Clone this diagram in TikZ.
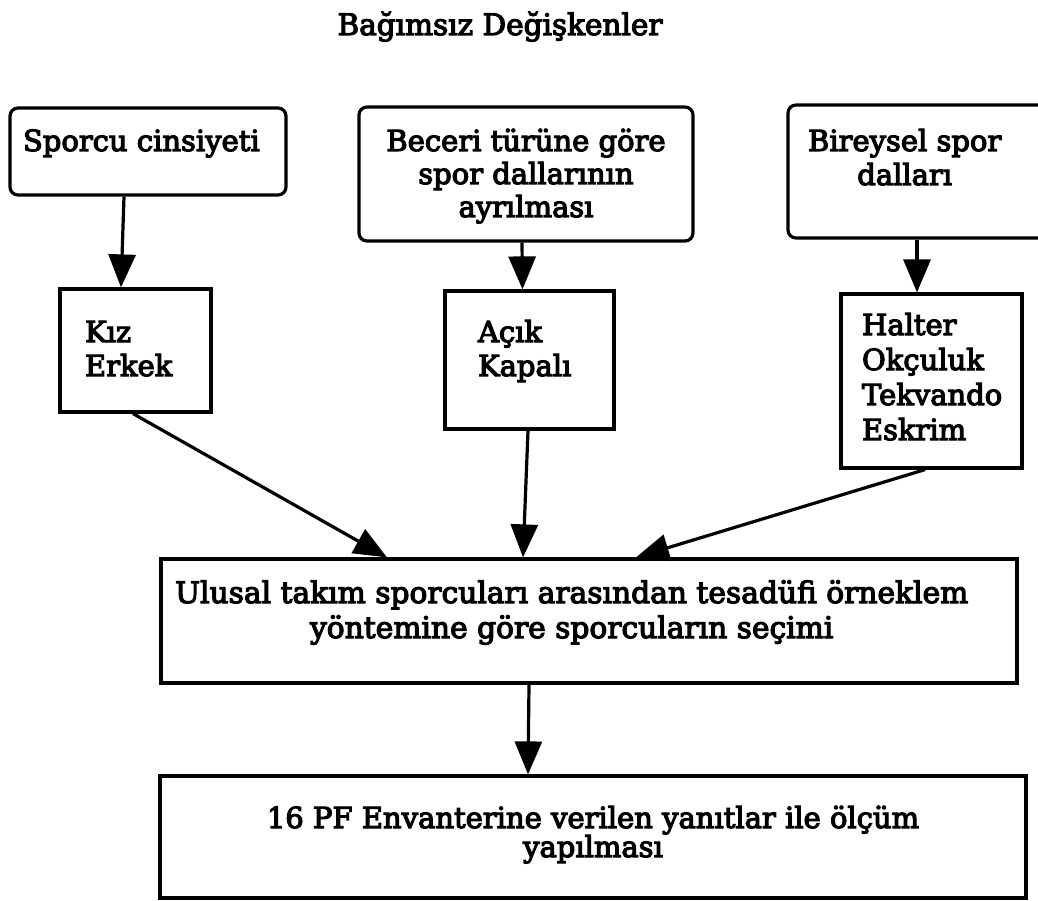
\documentclass[tikz,border=0pt]{standalone}
\usepackage{fontspec}
\setmainfont{DejaVu Serif}[FakeBold=4]
\usetikzlibrary{arrows.meta}

\begin{document}
\begin{tikzpicture}[x=1pt,y=-1pt,
    every node/.style={font=\fontsize{29}{34}\selectfont},
    box/.style={draw, line width=3.2pt, inner sep=0pt},
    rbox/.style={box, rounded corners=8pt},
    arr/.style={line width=3.2pt, -{Triangle[length=33pt,width=27pt]}}]
\useasboundingbox (0,0) rectangle (1038,901);
\node[anchor=base, font=\fontsize{29.5}{34}\selectfont] (baslik) at (500,35) {Bağımsız Değişkenler};
\node[rbox] (cins) at (148,151.5) {\parbox[c][87pt][t]{276pt}{\raggedright\rule{0pt}{43pt}\hspace*{13pt}Sporcu cinsiyeti}};
\node[rbox] (beceri) at (526,174) {\parbox[c][134pt][t]{334pt}{\centering\fontsize{29}{33}\selectfont\rule{0pt}{44pt}Beceri türüne göre\\spor dallarının\\ayrılması}};
\node[rbox] (birey) at (924,171.5) {\parbox[c][133pt][t]{272pt}{\raggedright\rule{0pt}{46pt}\hspace*{20pt}\begin{tabular}[t]{@{}c@{}}Bireysel spor\\dalları\end{tabular}}};
\node[box] (kiz) at (135.5,350.5) {\parbox[c][123pt][t]{151pt}{\raggedright\rule{0pt}{53pt}\hspace*{25pt}Kız\\\hspace*{25pt}Erkek}};
\node[box] (acik) at (529.5,360) {\parbox[c][138pt][t]{169pt}{\raggedright\rule{0pt}{51pt}\hspace*{33pt}Açık\\\hspace*{33pt}Kapalı}};
\node[box] (halter) at (931.5,381) {\parbox[c][174pt][t]{181pt}{\raggedright\fontsize{29}{35}\selectfont\rule{0pt}{41pt}\hspace*{21pt}Halter\\\hspace*{21pt}Okçuluk\\\hspace*{21pt}Tekvando\\\hspace*{21pt}Eskrim}};
\node[box] (secim) at (589,621) {\parbox[c][124pt][t]{856pt}{\raggedright\fontsize{29.7}{35}\selectfont\rule{0pt}{44pt}\hspace*{14pt}\begin{tabular}[t]{@{}c@{}}Ulusal takım sporcuları arasından tesadüfi örneklem\\yöntemine göre sporcuların seçimi\end{tabular}}};
\node[box] (olcum) at (593,837) {\parbox[c][122pt][t]{866pt}{\centering\fontsize{29}{29}\selectfont\rule{0pt}{52pt}16 PF Envanterine verilen yanıtlar ile ölçüm\\yapılması}};
% oklar
\draw[arr] ([xshift=-24pt]cins.south) -- ([xshift=-14.5pt]kiz.north);
\draw[arr] ([xshift=-4pt]beceri.south) -- ([xshift=-7pt]acik.north);
\draw[arr] ([xshift=-7pt]birey.south) -- ([xshift=-14.5pt]halter.north);
\draw[arr] ([xshift=-2.5pt]kiz.south) -- ([xshift=-202pt]secim.north);
\draw[arr] ([xshift=-1.5pt]acik.south) -- ([xshift=-66pt]secim.north);
\draw[arr] ([xshift=-6.5pt]halter.south) -- ([xshift=47pt]secim.north);
\draw[arr] ([xshift=-60pt]secim.south) -- ([xshift=-65pt]olcum.north);
\end{tikzpicture}
\end{document}
